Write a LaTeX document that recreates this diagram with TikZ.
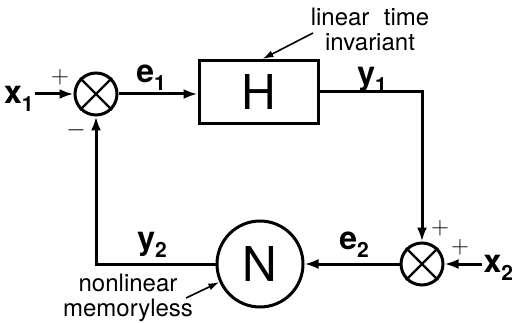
\documentclass[tikz,border=0pt]{standalone}
\usepackage{fontspec}
\setmainfont{TeX Gyre Heros}
\usetikzlibrary{arrows.meta,positioning}
\newcommand{\lowidx}[1]{\raisebox{-8pt}{\fontsize{21}{21}\selectfont #1}}

\begin{document}
\begin{tikzpicture}[x=1pt,y=-1pt,>=Latex,line width=3pt,
  sumjn/.style={draw,circle,minimum size=42pt,inner sep=0pt},
  sig/.style={font=\fontsize{32}{32}\selectfont\bfseries,inner sep=0pt},
  sgn/.style={font=\fontsize{27}{27}\selectfont,inner sep=0pt},
  note/.style={font=\fontsize{24}{25}\selectfont,align=center,inner sep=0pt},
  flow/.style={-{Latex[length=14pt,width=10pt]}},
  hint/.style={line width=1.6pt,-{Latex[length=11pt,width=7pt]}}]
\useasboundingbox (0,0) rectangle (516,323);
% blocks
\node[sumjn] (s1) at (96,94) {};
\node[sumjn] (s2) at (422,264) {};
\node[draw,minimum width=119pt,minimum height=63pt,font=\fontsize{48}{48}\selectfont] (H) at (258.5,92) {H};
\node[draw,circle,minimum size=86pt,inner sep=0pt,font=\fontsize{48}{48}\selectfont] (N) at (260,264) {N};
\foreach \s in {s1,s2}
  \draw[line width=2.4pt] (\s.north west) -- (\s.south east) (\s.north east) -- (\s.south west);
% inputs
\node[sig,anchor=east] (x1) at (35,99) {x\lowidx{1}};
\node[sig,anchor=west] (x2) at (482,268) {x\lowidx{2}};
% signal flow
\draw[flow] (x1.east |- s1) -- (s1.west);
\draw[flow] (s1.east) -- (s1.east -| H.west);
\draw[flow] (H.east) -| (s2.north);
\draw[flow] (x2.west |- s2) -- (s2.east);
\draw[flow] (s2.west) -- (N.east);
\draw[flow] (N.west) -| (s1.south);
% labels
\node[sig] (e1) at (151,78) {e\lowidx{1}};
\node[sig] (y1) at (372,80) {y\lowidx{1}};
\node[sig] (e2) at (354,245) {e\lowidx{2}};
\node[sig] (y2) at (152,245) {y\lowidx{2}};
\node[sgn] (p1) at (60,77) {$+$};
\node[sgn] (m1) at (76,130) {$-$};
\node[sgn] (p2) at (440,228) {$+$};
\node[sgn] (p3) at (460,247) {$+$};
% notes
\node[note] (lti) at (370,29) {linear\hspace{0.6em}time\\invariant};
\coordinate (ltitail) at (313,33);
\draw[hint] (ltitail) -- ([xshift=4pt]H.north);
\node[note] (nlm) at (128,298) {nonlinear\\memoryless};
\coordinate (nlmtail) at (186,298);
\draw[hint] (nlmtail) -- (N.204);
\end{tikzpicture}
\end{document}
